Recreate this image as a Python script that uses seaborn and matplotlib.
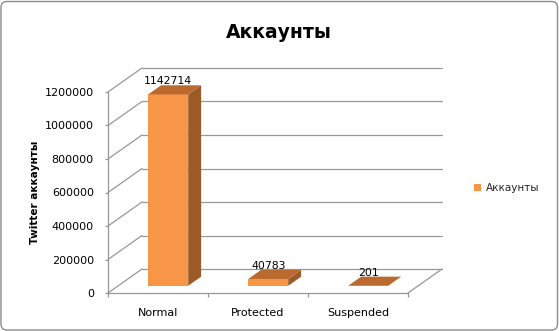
import matplotlib
matplotlib.use('Agg')
import matplotlib.pyplot as plt
import seaborn as sns
from matplotlib.patches import Polygon, FancyBboxPatch, Patch
from matplotlib.transforms import Affine2D, IdentityTransform
from matplotlib.lines import Line2D

categories = ['Normal', 'Protected', 'Suspended']
values = [1142714, 40783, 201]
yticks = [0, 200000, 400000, 600000, 800000, 1000000, 1200000]
series_name = 'Аккаунты'
title = 'Аккаунты'
ylabel = 'Twitter аккаунты'

sns.set_theme(style='white')
plt.rcParams['font.family'] = ['DejaVu Sans']

W, H = 559, 331
fig = plt.figure(figsize=(W / 100, H / 100), dpi=100)
fig.patch.set_facecolor('white')

# front plane of the 3D box (pixels, from top)
x0, x1 = 108, 408
yb, yt = 293, 92
ax = fig.add_axes([x0 / W, (H - yb) / H, (x1 - x0) / W, (yb - yt) / H])
ax.set_facecolor('none')

front_c = '#F79646'
side_c = '#9C5A27'
top_c = '#BA6A2F'
grid_c = '#989898'

sns.barplot(x=categories, y=values, color=front_c, saturation=1, width=0.4,
            ax=ax, zorder=3)
ax.set_xlim(-0.5, 2.5)
ax.set_ylim(0, 1200000)

DX, DY = 34, 24      # depth of box in pixels
f, d = 0.3, 0.38     # bar front position and bar depth (fraction of box depth)
off = Affine2D().translate(f * DX, f * DY)
ident = IdentityTransform()

# back wall gridlines
back = ax.transData + Affine2D().translate(DX, DY)
for v in yticks:
    ax.plot([-0.5, 2.5], [v, v], transform=back, color=grid_c, lw=0.9,
            clip_on=False, zorder=0)
    p = ax.transData.transform((-0.5, v))
    ax.add_line(Line2D([p[0], p[0] + DX], [p[1], p[1] + DY], transform=ident,
                       color=grid_c, lw=0.9, clip_on=False, zorder=0))
p = ax.transData.transform((2.5, 0))
ax.add_line(Line2D([p[0], p[0] + DX], [p[1], p[1] + DY], transform=ident,
                   color=grid_c, lw=0.9, clip_on=False, zorder=0))

# bars: shift front faces, add side and top faces
tr = ax.transData + off
for patch, v in zip(ax.patches, values):
    patch.set_transform(tr)
    patch.set_edgecolor('none')
    xl = patch.get_x()
    w = patch.get_width()
    h = patch.get_height()
    BR = tr.transform((xl + w, 0))
    TR = tr.transform((xl + w, h))
    TL = tr.transform((xl, h))
    dd = (d * DX, d * DY)
    side = Polygon([BR, TR, (TR[0] + dd[0], TR[1] + dd[1]), (BR[0] + dd[0], BR[1] + dd[1])],
                   closed=True, transform=ident, facecolor=side_c, edgecolor='none',
                   clip_on=False, zorder=3)
    topf = Polygon([TL, TR, (TR[0] + dd[0], TR[1] + dd[1]), (TL[0] + dd[0], TL[1] + dd[1])],
                   closed=True, transform=ident, facecolor=top_c, edgecolor='none',
                   clip_on=False, zorder=3)
    ax.add_patch(side)
    ax.add_patch(topf)
    ax.annotate(str(v), xy=(xl + w / 2, v), xycoords='data',
                xytext=(f * DX, f * DY + 13), textcoords='offset pixels',
                ha='center', va='center', fontsize=7.8, color='black', zorder=5,
                annotation_clip=False)

for s in ['top', 'right']:
    ax.spines[s].set_visible(False)
for s in ['left', 'bottom']:
    ax.spines[s].set_color(grid_c)
    ax.spines[s].set_linewidth(0.9)

ax.set_yticks(yticks)
ax.set_yticklabels([str(t) for t in yticks], fontsize=8)
ax.tick_params(axis='y', which='major', left=True, length=2.2, width=0.9,
               color=grid_c, pad=8, labelcolor='black')
ax.set_xticks(range(len(categories)))
ax.set_xticklabels(categories, fontsize=8)
ax.set_xticks([-0.5, 0.5, 1.5, 2.5], minor=True)
ax.tick_params(axis='x', which='major', length=0, pad=10.5, labelcolor='black')
ax.tick_params(axis='x', which='minor', bottom=True, length=3, width=0.9, color=grid_c)
ax.set_xlabel('')
ax.set_ylabel('')

fig.text(279 / W, 1 - 33 / H, title, ha='center', va='center', fontsize=13.5,
         fontweight='bold', color='black')
fig.text(35 / W, 1 - 192 / H, ylabel, ha='center', va='center', rotation=90,
         fontsize=7.5, fontweight='bold', color='black')

fig.legend(handles=[Patch(facecolor=front_c, edgecolor='none')], labels=[series_name],
           loc='center left', bbox_to_anchor=(474 / W, 1 - 188 / H), frameon=False,
           fontsize=7.5, handlelength=0.7, handleheight=0.7, handletextpad=0.45,
           borderpad=0, borderaxespad=0)

fig.add_artist(FancyBboxPatch((1, 1), W - 2.5, H - 2.5,
                              boxstyle='round,pad=0,rounding_size=6',
                              transform=ident, fill=False, ec='#8C8C8C', lw=1))

fig.savefig('out.png', dpi=100, facecolor='white')
